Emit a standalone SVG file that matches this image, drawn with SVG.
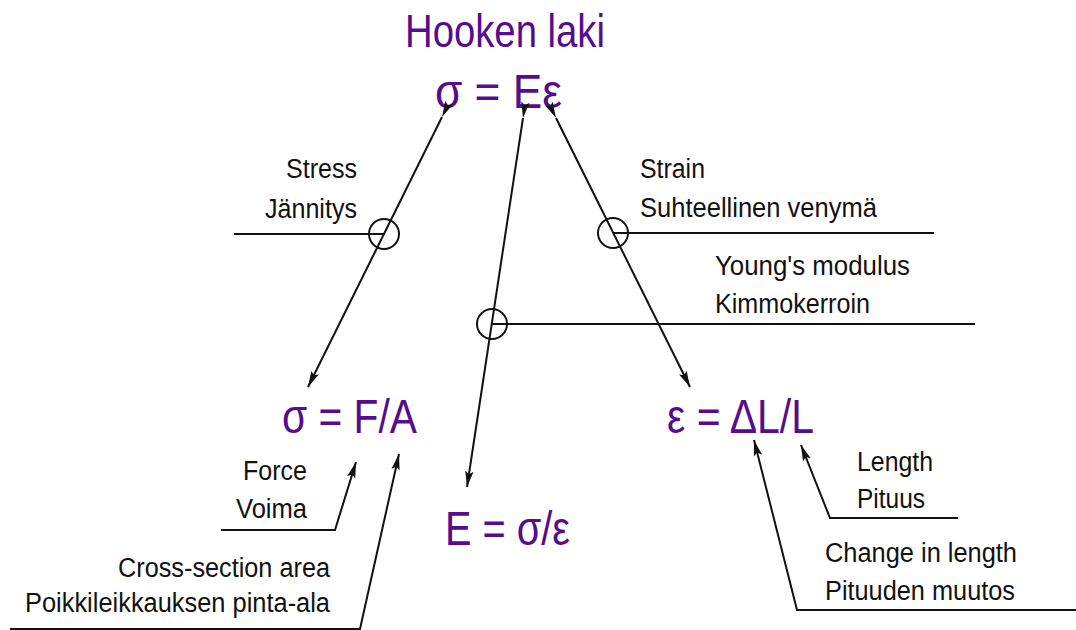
<svg xmlns="http://www.w3.org/2000/svg" width="1076" height="630" viewBox="0 0 1076 630">
<defs>
<marker id="ah" markerUnits="userSpaceOnUse" markerWidth="17" markerHeight="10" viewBox="0 0 17 10" refX="16" refY="5" orient="auto">
<path d="M0,0.8 L16,5 L0,9.2 L3,5 Z" fill="#111"/>
</marker>
<style>
.f{font-family:"Liberation Sans",Arial,sans-serif;fill:#560c8e}
.l{font-family:"Liberation Sans",Arial,sans-serif;font-size:27px;fill:#111}
.ln{stroke:#111;stroke-width:2;fill:none}
.c{stroke:#111;stroke-width:2;fill:none}
</style>
</defs>
<rect width="1076" height="630" fill="#fff"/>
<g id="title">
<text class="f" x="405" y="47" font-size="47" textLength="200" lengthAdjust="spacingAndGlyphs">Hooken laki</text>
</g>
<g id="hooke">
<text class="f" x="435" y="108" font-size="49" textLength="127" lengthAdjust="spacingAndGlyphs">σ = Eε</text>
</g>
<g id="stress-formula">
<text class="f" x="282" y="433" font-size="49" textLength="135" lengthAdjust="spacingAndGlyphs">σ = F/A</text>
</g>
<g id="young-formula">
<text class="f" x="445" y="545" font-size="49" textLength="125" lengthAdjust="spacingAndGlyphs">E = σ/ε</text>
</g>
<g id="strain-formula">
<text class="f" x="667" y="433" font-size="49" textLength="147" lengthAdjust="spacingAndGlyphs">ε = ΔL/L</text>
</g>
<g id="stress-label">
<text class="l" x="286" y="178" textLength="71" lengthAdjust="spacingAndGlyphs">Stress</text>
<text class="l" x="265" y="218" textLength="92" lengthAdjust="spacingAndGlyphs">Jännitys</text>
</g>
<g id="strain-label">
<text class="l" x="640" y="178" textLength="65" lengthAdjust="spacingAndGlyphs">Strain</text>
<text class="l" x="640" y="217" textLength="237" lengthAdjust="spacingAndGlyphs">Suhteellinen venymä</text>
</g>
<g id="young-label">
<text class="l" x="715" y="275" textLength="195" lengthAdjust="spacingAndGlyphs">Young's modulus</text>
<text class="l" x="715" y="313" textLength="155" lengthAdjust="spacingAndGlyphs">Kimmokerroin</text>
</g>
<g id="force-label">
<text class="l" x="243" y="480" textLength="64" lengthAdjust="spacingAndGlyphs">Force</text>
<text class="l" x="236" y="518" textLength="71" lengthAdjust="spacingAndGlyphs">Voima</text>
</g>
<g id="area-label">
<text class="l" x="118" y="577" textLength="212" lengthAdjust="spacingAndGlyphs">Cross-section area</text>
<text class="l" x="25" y="612" textLength="305" lengthAdjust="spacingAndGlyphs">Poikkileikkauksen pinta-ala</text>
</g>
<g id="length-label">
<text class="l" x="857" y="471" textLength="76" lengthAdjust="spacingAndGlyphs">Length</text>
<text class="l" x="857" y="508" textLength="68" lengthAdjust="spacingAndGlyphs">Pituus</text>
</g>
<g id="change-label">
<text class="l" x="825" y="562" textLength="192" lengthAdjust="spacingAndGlyphs">Change in length</text>
<text class="l" x="825" y="600" textLength="190" lengthAdjust="spacingAndGlyphs">Pituuden muutos</text>
</g>
<g id="connectors">
<line class="ln" x1="442" y1="117" x2="308" y2="387" marker-start="url(#ah)" marker-end="url(#ah)"/>
<line class="ln" x1="523" y1="118" x2="467" y2="487" marker-start="url(#ah)" marker-end="url(#ah)"/>
<line class="ln" x1="556" y1="118" x2="690" y2="387" marker-start="url(#ah)" marker-end="url(#ah)"/>
<circle class="c" cx="384" cy="234" r="15"/>
<line class="ln" x1="234" y1="234" x2="384" y2="234"/>
<circle class="c" cx="613" cy="233" r="15"/>
<line class="ln" x1="613" y1="233" x2="934" y2="233"/>
<circle class="c" cx="492" cy="324" r="15"/>
<line class="ln" x1="492" y1="324" x2="975" y2="324"/>
<polyline class="ln" points="221,530 335,530 356,462" marker-end="url(#ah)"/>
<polyline class="ln" points="10,629 360,629 399,454" marker-end="url(#ah)"/>
<polyline class="ln" points="958,518 830,518 801,445" marker-end="url(#ah)"/>
<polyline class="ln" points="1076,610 797,610 754,440" marker-end="url(#ah)"/>
</g>
</svg>
